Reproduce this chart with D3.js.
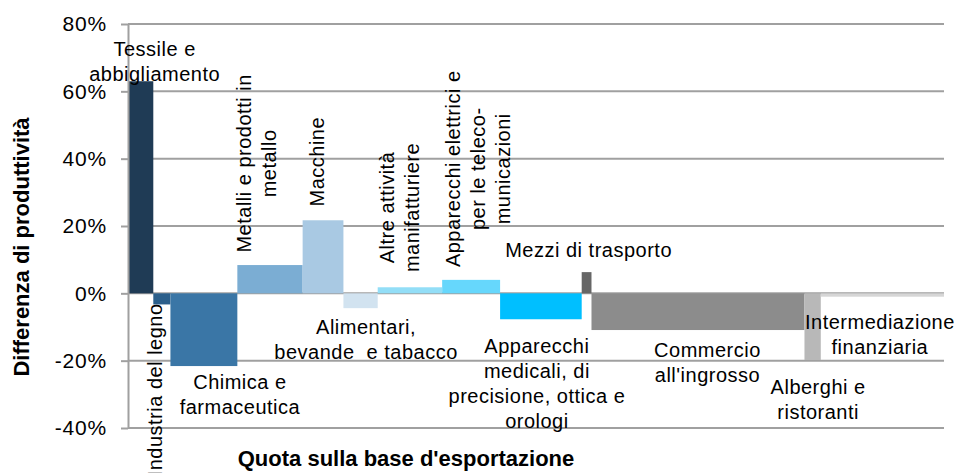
<!DOCTYPE html>
<html>
<head>
<meta charset="utf-8">
<script src="https://cdn.jsdelivr.net/npm/d3@7"></script>
<style>
body { margin: 0; background: #fff; }
svg text { font-family: "Liberation Sans", Arial, sans-serif; fill: #000; }
</style>
</head>
<body>
<svg id="chart" width="964" height="473"></svg>
<script>
// sectors, export share (bar width, %) and productivity gap (bar height, %)
var categories = ["Tessile e abbigliamento", "Industria del legno", "Chimica e farmaceutica",
  "Metalli e prodotti in metallo", "Macchine", "Alimentari, bevande e tabacco",
  "Altre attività manifatturiere", "Apparecchi elettrici e per le telecomunicazioni",
  "Apparecchi medicali, di precisione, ottica e orologi", "Mezzi di trasporto",
  "Commercio all'ingrosso", "Alberghi e ristoranti", "Intermediazione finanziaria"];
var shares = [3.1, 2.1, 8.2, 8.0, 5.0, 4.2, 7.9, 7.1, 10.0, 1.2, 26.1, 2.0, 15.1];
var values = [63.0, -3.3, -21.6, 8.4, 21.7, -4.4, 1.8, 4.0, -7.7, 6.3, -10.9, -19.8, -1.0];
var yTicks = [-40, -20, 0, 20, 40, 60, 80];

var labelLines = [
  ["Tessile e", "abbigliamento"],
  ["Industria del legno"],
  ["Chimica e", "farmaceutica"],
  ["Metalli e prodotti in", "metallo"],
  ["Macchine"],
  ["Alimentari,", "bevande  e tabacco"],
  ["Altre attività", "manifatturiere"],
  ["Apparecchi elettrici e", "per le teleco-", "municazioni"],
  ["Apparecchi", "medicali, di", "precisione, ottica e", "orologi"],
  ["Mezzi di trasporto"],
  ["Commercio", "all'ingrosso"],
  ["Alberghi e", "ristoranti"],
  ["Intermediazione", "finanziaria"]
];

var colors = ["#1f3b55", "#2b5f8b", "#3a76a6", "#7badd3", "#a9c9e3", "#d2e3f0",
  "#93def7", "#66d7fc", "#00bfff", "#666666", "#8c8c8c", "#b8b8b8", "#d6d6d6"];

// label placement: dx from bar centre (px), at = y value (%) of first baseline
// (or of the centre, for rotated labels)
var labelPos = [
  { rot: false, dx: 14, at: 70.4 },
  { rot: true, dx: 0, at: -3.0, anchor: "end" },
  { rot: false, dx: 36, at: -28.5 },
  { rot: true, dx: -19, at: 38.6 },
  { rot: true, dx: 0.5, at: 39.1 },
  { rot: false, dx: 5.5, at: -12.2 },
  { rot: true, dx: -16, at: 25.5 },
  { rot: true, dx: -11, at: 37.0 },
  { rot: false, dx: -4, at: -17.8 },
  { rot: false, dx: 2, at: 10.7 },
  { rot: false, dx: 9.5, at: -19.0 },
  { rot: false, dx: 5.5, at: -30.0 },
  { rot: false, dx: -2.5, at: -10.7 }
];

var lineGap = 25;

var svg = d3.select("#chart");

var x = d3.scaleLinear().domain([0, 100]).range([128, 944]);
var y = d3.scaleLinear().domain([-40, 80]).range([428, 24]);

var starts = [0].concat(Array.from(d3.cumsum(shares)).slice(0, -1));

var data = categories.map(function(c, i) {
  return { name: c, start: starts[i], share: shares[i], value: values[i],
    color: colors[i], lines: labelLines[i], pos: labelPos[i] };
});

// gridlines
svg.append("g")
  .selectAll("line")
  .data(yTicks)
  .join("line")
  .attr("x1", x(0))
  .attr("x2", x(100))
  .attr("y1", function(d) { return y(d); })
  .attr("y2", function(d) { return y(d); })
  .attr("stroke", "#a0a0a0")
  .attr("stroke-width", 2);

// bars
svg.append("g")
  .selectAll("rect")
  .data(data)
  .join("rect")
  .attr("x", function(d) { return x(d.start); })
  .attr("width", function(d) { return x(d.start + d.share) - x(d.start); })
  .attr("y", function(d) { return y(Math.max(0, d.value)); })
  .attr("height", function(d) { return Math.abs(y(d.value) - y(0)); })
  .attr("fill", function(d) { return d.color; });

// y axis
var yAxis = svg.append("g")
  .attr("transform", "translate(" + x(0) + ",0)")
  .call(d3.axisLeft(y).tickValues(yTicks).tickSize(7).tickSizeOuter(0).tickPadding(14)
    .tickFormat(function(d) { return d + "%"; }));
yAxis.select(".domain").attr("stroke", "#a0a0a0").attr("stroke-width", 2);
yAxis.selectAll(".tick line").attr("stroke", "#a0a0a0").attr("stroke-width", 2);
yAxis.selectAll(".tick text")
  .attr("font-size", 21)
  .attr("letter-spacing", 0.8)
  .style("font-family", "'Liberation Sans', Arial, sans-serif")
  .attr("fill", "#000");

// category labels
var labels = svg.append("g").selectAll("text")
  .data(data)
  .join("text")
  .attr("font-size", 20)
  .attr("letter-spacing", 0.5)
  .style("white-space", "pre")
  .attr("text-anchor", function(d) { return d.pos.anchor || "middle"; })
  .attr("transform", function(d) {
    var cx = x(d.start + d.share / 2) + d.pos.dx;
    var cy = y(d.pos.at);
    return "translate(" + cx + "," + cy + ")" + (d.pos.rot ? " rotate(-90)" : "");
  });

labels.selectAll("tspan")
  .data(function(d) { return d.lines; })
  .join("tspan")
  .attr("x", 0)
  .attr("y", function(d, i) { return i * lineGap; })
  .text(function(d) { return d; });

// axis titles
svg.append("text")
  .attr("transform", "translate(29,247) rotate(-90)")
  .attr("text-anchor", "middle")
  .attr("font-size", 22)
  .attr("font-weight", "bold")
  .text("Differenza di produttività");

svg.append("text")
  .attr("x", 406)
  .attr("y", 466)
  .attr("text-anchor", "middle")
  .attr("font-size", 22)
  .attr("font-weight", "bold")
  .text("Quota sulla base d'esportazione");
</script>
</body>
</html>
